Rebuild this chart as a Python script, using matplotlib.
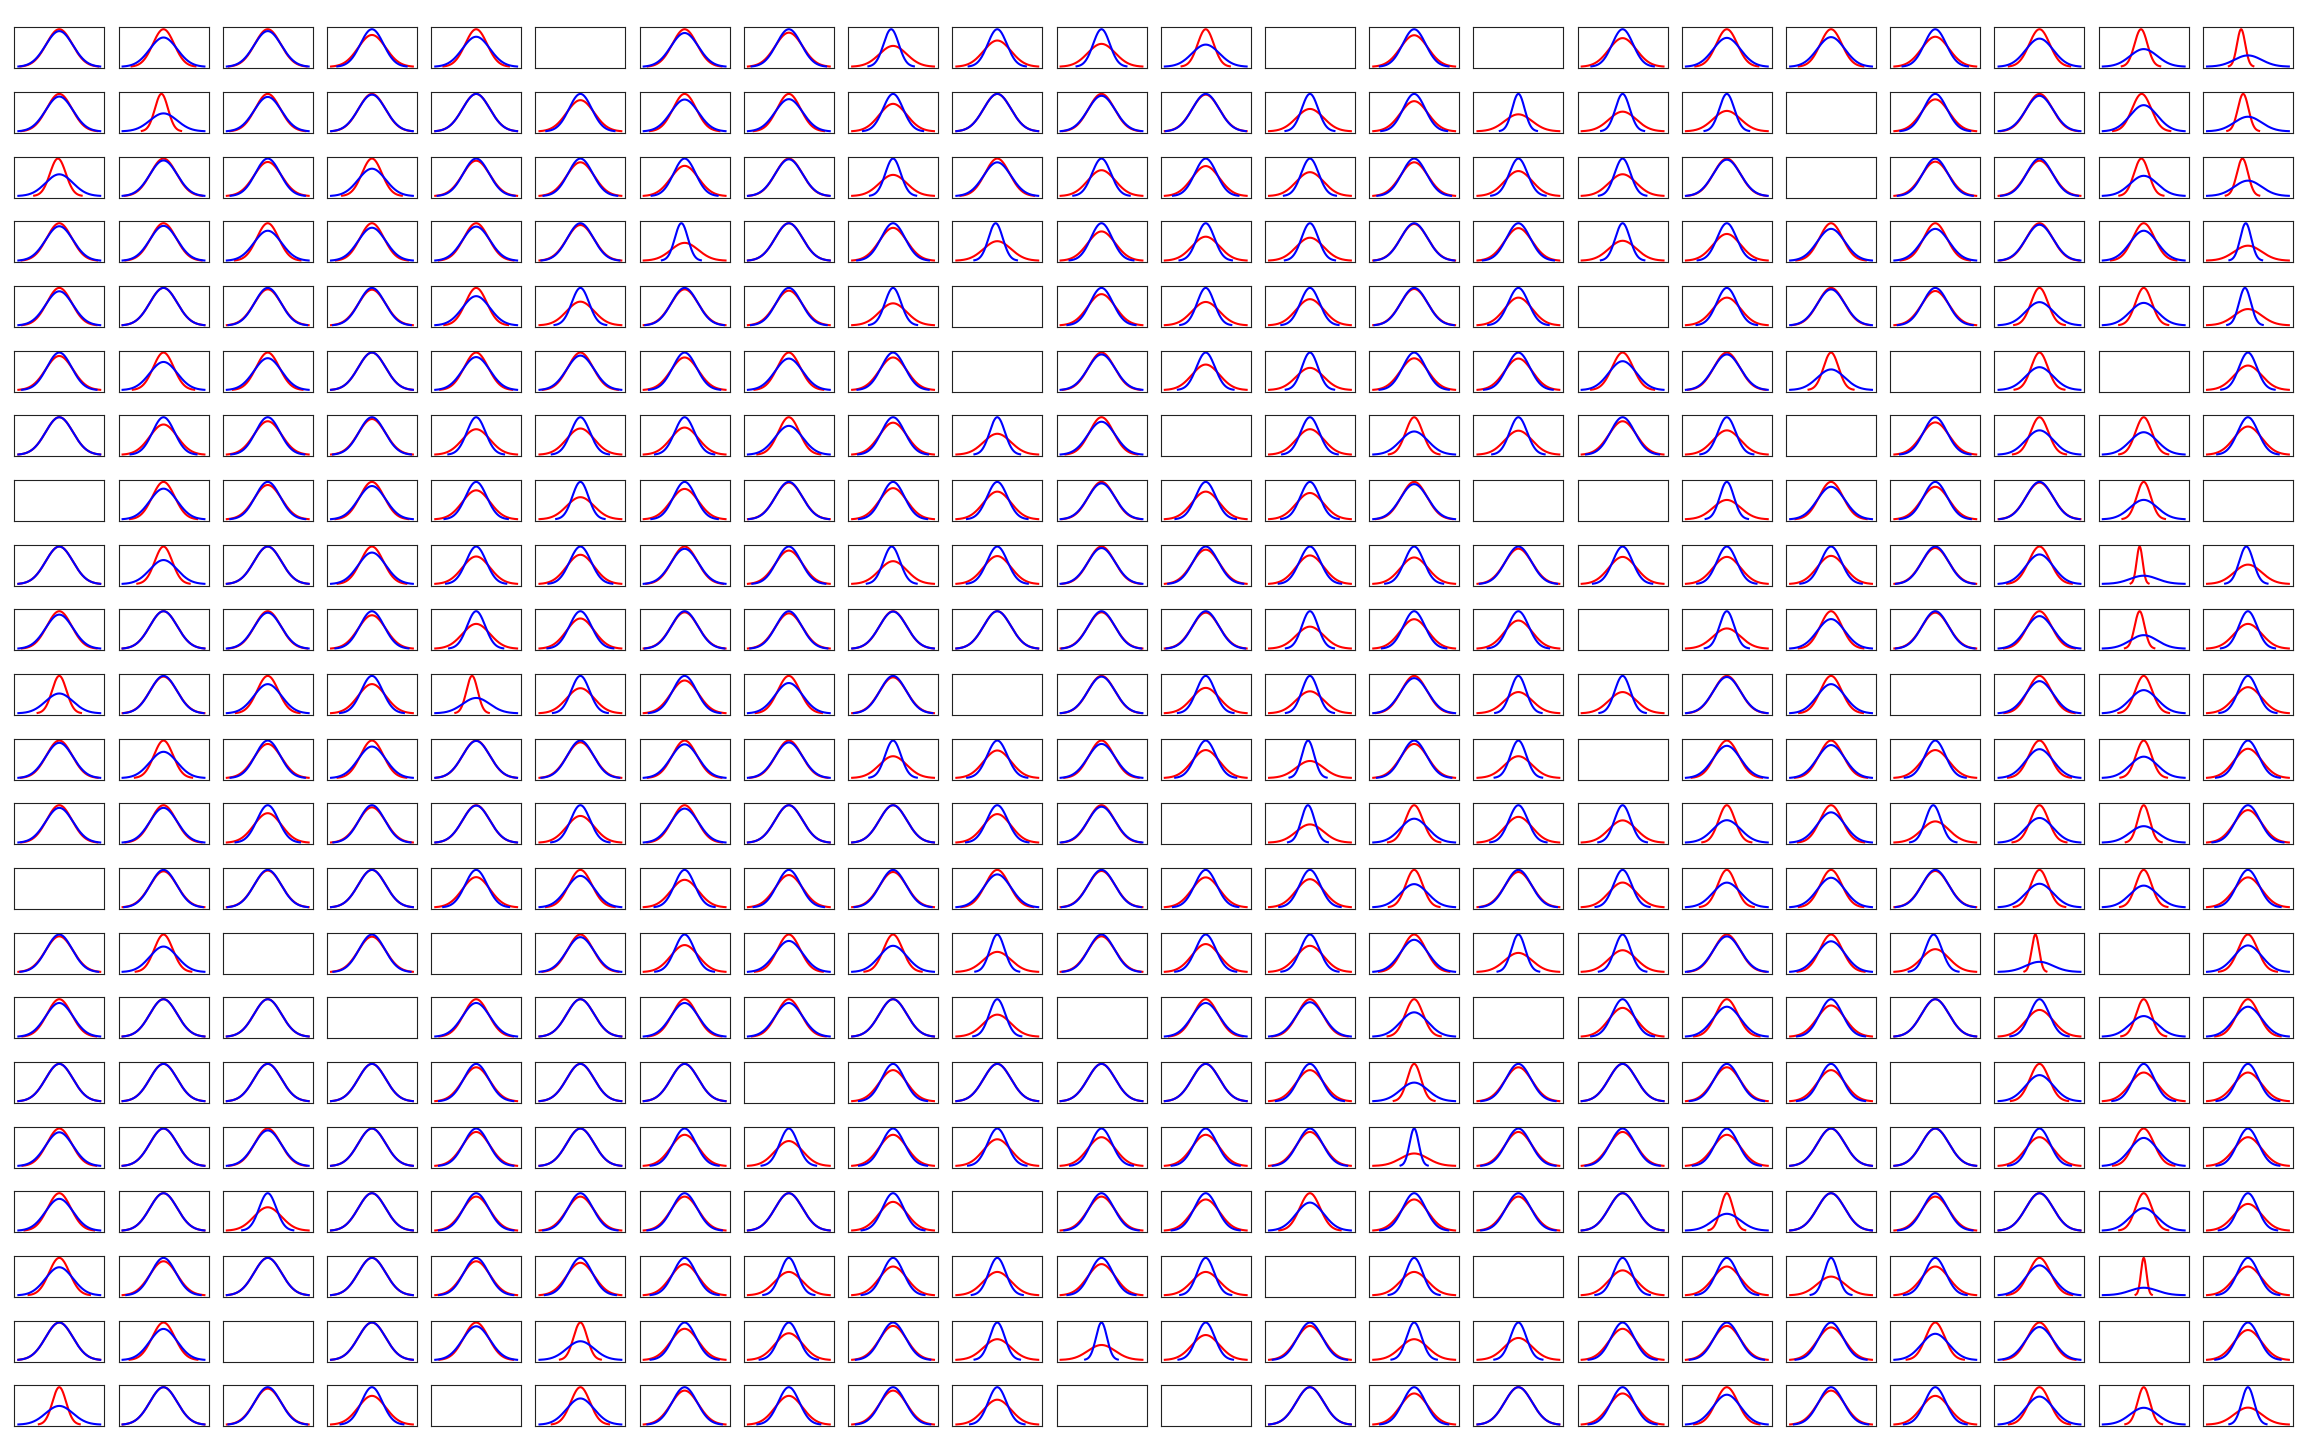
import numpy as np
import matplotlib
matplotlib.use('Agg')
import matplotlib.pyplot as plt

# ratio of the red curve's sd to the blue curve's sd (blue sd = 1) for each
# panel of the 22 x 22 grid, None where the panel is left empty
sd_ratio = [
    [0.95, 0.78, 0.95, 1.18, 0.80, None, 0.90, 1.10, 1.80, 1.43, 1.64, 0.59, None, 1.19, None, 1.31, 0.77, 0.79, 1.25, 0.75, 0.47, 0.30],
    [0.93, 0.48, 0.92, 0.98, 1.00, 1.20, 0.85, 0.86, 1.36, 1.00, 0.95, 1.02, 1.67, 1.24, 2.20, 1.90, 1.83, None, 1.17, 0.95, 0.70, 0.39],
    [0.58, 0.95, 1.10, 0.73, 1.06, 1.11, 1.24, 0.98, 1.77, 0.90, 1.45, 1.25, 1.57, 1.11, 1.50, 1.72, 0.97, None, 1.09, 1.06, 0.54, 0.41],
    [0.92, 0.93, 0.80, 0.88, 0.91, 1.05, 2.10, 1.00, 1.14, 1.92, 1.28, 1.56, 1.63, 1.02, 1.15, 1.88, 1.40, 0.85, 0.85, 0.96, 0.80, 2.50],
    [0.91, 1.00, 1.04, 1.05, 0.78, 1.58, 1.04, 1.08, 1.70, None, 1.20, 1.60, 1.43, 1.03, 1.35, None, 1.35, 0.96, 1.09, 0.62, 0.60, 2.30],
    [1.10, 0.75, 0.85, 1.00, 0.88, 0.92, 1.15, 0.84, 1.15, None, 0.95, 1.47, 1.69, 1.18, 1.19, 0.77, 0.95, 0.55, None, 0.61, None, 1.53],
    [1.00, 1.24, 1.12, 1.05, 1.47, 1.43, 1.38, 0.77, 1.17, 1.79, 0.88, None, 1.47, 0.62, 1.56, 1.12, 1.54, None, 1.16, 0.65, 0.60, 1.33],
    [None, 0.82, 1.09, 0.89, 1.29, 1.69, 1.23, 1.02, 1.20, 1.35, 0.96, 1.35, 1.42, 0.94, None, None, 1.93, 0.87, 1.15, 1.02, 0.52, None],
    [1.00, 0.64, 1.00, 0.84, 1.36, 1.28, 0.94, 1.12, 1.64, 1.34, 0.96, 1.09, 1.31, 1.41, 1.06, 1.38, 1.38, 1.33, 1.04, 0.79, 0.22, 1.93],
    [0.91, 1.00, 0.96, 1.12, 1.51, 1.24, 1.03, 1.06, 0.99, 1.00, 1.03, 1.04, 1.70, 1.27, 1.33, None, 1.85, 0.79, 1.04, 0.87, 0.36, 1.51],
    [0.53, 1.02, 0.78, 1.28, 0.41, 1.49, 1.14, 0.81, 1.04, None, 0.98, 1.47, 1.70, 0.94, 1.76, 1.76, 0.97, 0.78, None, 0.86, 0.62, 1.43],
    [0.94, 0.70, 1.10, 0.84, 0.99, 1.05, 0.90, 0.95, 1.72, 1.36, 0.91, 1.34, 2.20, 1.10, 1.72, None, 0.86, 0.88, 1.34, 0.77, 0.57, 1.28],
    [0.93, 0.93, 1.27, 1.06, 0.99, 1.40, 0.91, 1.00, 1.00, 1.31, 0.96, None, 2.05, 0.64, 1.45, 1.68, 0.60, 0.81, 1.76, 0.66, 0.44, 1.15],
    [None, 1.04, 1.02, 1.00, 1.24, 0.84, 1.36, 1.16, 1.06, 0.88, 1.03, 1.25, 1.33, 0.62, 1.06, 1.51, 0.66, 0.79, 1.03, 0.63, 0.58, 1.25],
    [1.05, 0.68, None, 1.06, None, 0.93, 1.39, 0.83, 0.70, 1.86, 1.05, 1.34, 1.43, 0.86, 1.96, 1.72, 0.95, 0.82, 1.64, 0.27, None, 0.71],
    [0.90, 1.00, 1.00, None, 0.90, 1.00, 0.90, 0.90, 1.00, 1.70, None, 0.90, 0.92, 0.65, None, 1.30, 0.80, 1.20, 1.00, 1.40, 0.55, 0.80],
    [1.00, 1.00, 1.00, 1.00, 1.10, 1.00, 1.00, None, 1.20, 1.00, 1.00, 1.00, 1.20, 0.50, 1.10, 1.00, 1.10, 1.20, None, 0.70, 1.30, 1.30],
    [0.90, 1.00, 0.95, 1.00, 1.10, 1.00, 1.20, 1.50, 1.20, 1.40, 1.30, 1.20, 1.10, 3.00, 1.10, 1.10, 1.20, 1.00, 1.00, 1.30, 0.75, 1.30],
    [0.85, 1.00, 1.60, 1.00, 1.10, 1.10, 1.10, 1.00, 1.30, None, 1.10, 1.20, 0.75, 1.20, 1.10, 1.00, 0.45, 1.00, 1.10, 1.00, 0.60, 1.40],
    [0.75, 1.10, 1.00, 1.00, 1.10, 1.15, 1.20, 1.60, 1.30, 1.60, 1.20, 1.60, None, 1.60, None, 1.50, 1.30, 2.00, 1.30, 0.80, 0.20, 1.30],
    [1.00, 0.83, None, 1.00, 0.90, 0.50, 1.20, 1.40, 1.10, 1.80, 2.50, 1.50, 1.10, 1.80, 1.70, 1.20, 1.10, 1.15, 0.70, 0.88, None, 1.25],
    [0.50, 1.00, 1.04, 1.30, None, 0.70, 1.10, 1.30, 1.10, 1.50, None, None, 1.00, 1.20, 1.00, 1.20, 0.80, 1.10, 1.30, 0.75, 0.45, 2.20],
]

# panels where the red mean sits visibly off the blue one: (row, col, shift in blue sd)
red_shift = [
    (0, 8, 0.25), (0, 20, -0.2), (0, 21, -0.5), (1, 1, -0.15), (1, 20, -0.15),
    (1, 21, -0.35), (2, 0, -0.1), (2, 20, -0.17), (2, 21, -0.4), (3, 6, 0.5),
    (3, 9, 0.23), (3, 21, 0.4), (4, 21, 0.5), (8, 8, 0.16), (8, 20, -0.3),
    (8, 21, 0.23), (9, 20, -0.3), (10, 4, -0.3), (11, 12, 0.3), (12, 12, 0.3),
    (12, 18, 0.26), (14, 18, 0.2), (14, 19, -0.3),
]


def gauss(x, mu, sd):
    return np.exp(-0.5 * ((x - mu) / sd) ** 2) / (sd * np.sqrt(2 * np.pi))


shift = {(r, c): s for r, c, s in red_shift}

n = len(sd_ratio)
fig, axes = plt.subplots(n, n, figsize=(23.04, 14.4), dpi=100)
fig.subplots_adjust(left=0.0062, right=0.9952, top=0.981, bottom=0.0095,
                    wspace=0.158, hspace=0.577)

for i in range(n):
    for j in range(n):
        ax = axes[i][j]
        ax.set_xticks([])
        ax.set_yticks([])
        for sp in ax.spines.values():
            sp.set_color('#222222')
        r = sd_ratio[i][j]
        if r is None:
            continue
        mu = shift.get((i, j), 0.0)
        xr = np.linspace(mu - 3 * r, mu + 3 * r, 200)
        xb = np.linspace(-3, 3, 200)
        ax.plot(xr, gauss(xr, mu, r), color='red', lw=1.5)
        ax.plot(xb, gauss(xb, 0.0, 1.0), color='blue', lw=1.5)

plt.savefig('out.png', dpi=100)
